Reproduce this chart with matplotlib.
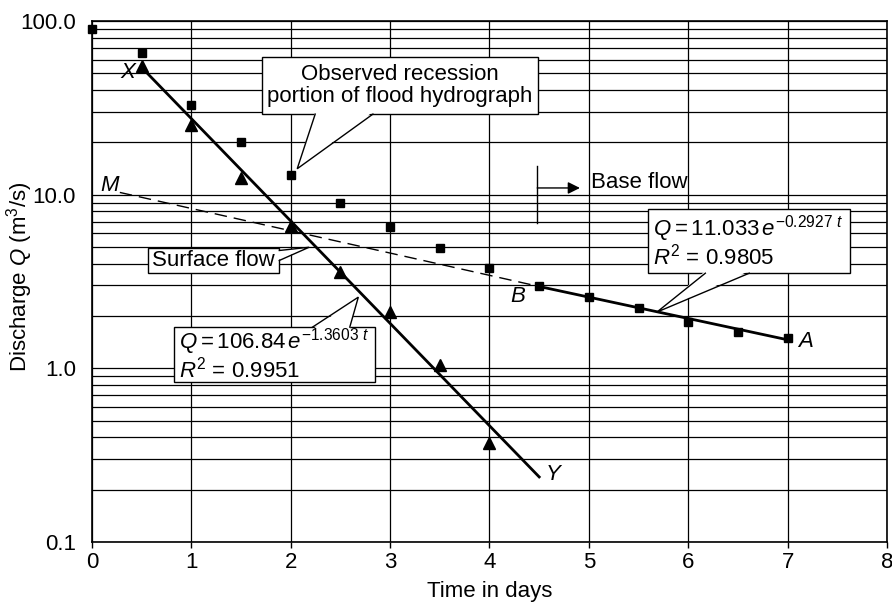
import matplotlib
matplotlib.use('Agg')
import matplotlib.pyplot as plt
from matplotlib.patches import Rectangle, Polygon
from matplotlib.ticker import FixedLocator, LogLocator, NullFormatter, NullLocator

plt.rcParams['font.family'] = ['Liberation Sans', 'DejaVu Sans']
plt.rcParams['mathtext.fontset'] = 'custom'
plt.rcParams['mathtext.rm'] = 'Liberation Sans'
plt.rcParams['mathtext.it'] = 'Liberation Sans:italic'
plt.rcParams['mathtext.bf'] = 'Liberation Sans:bold'

FS = 16

# observed recession portion of the flood hydrograph (squares)
days_obs = [0, 0.5, 1, 1.5, 2, 2.5, 3, 3.5, 4, 4.5, 5, 5.5, 6, 6.5, 7]
q_obs = [90, 65, 33, 20, 13, 8.9, 6.5, 4.95, 3.8, 2.96, 2.59, 2.24, 1.86, 1.61, 1.5]

# surface flow = observed - base flow (triangles)
days_surf = [0.5, 1, 1.5, 2, 2.5, 3, 3.5, 4]
q_surf = [55, 25.2, 12.5, 6.6, 3.6, 2.1, 1.04, 0.37]

# fitted lines (end points)
surf_fit_days = [0.5, 4.5]
surf_fit_q = [54, 0.237]
base_fit_days = [4.5, 7]
base_fit_q = [2.96, 1.46]
base_ext_days = [0.28, 4.5]
base_ext_q = [10.3, 2.96]

y_ticks = [0.1, 1, 10, 100]
y_tick_labels = ['0.1', '1.0', '10.0', '100.0']
x_ticks = [0, 1, 2, 3, 4, 5, 6, 7, 8]


def callout(ax, x0, x1, y0, y1, b0, b1, tip, side):
    ax.add_patch(Rectangle((x0, y0), x1 - x0, y1 - y0, fc='white', ec='black',
                           lw=1, zorder=5))
    if side == 'bottom':
        e0, e1 = (b0, y0), (b1, y0)
        i0, i1 = (b0, y0 * 1.03), (b1, y0 * 1.03)
    elif side == 'top':
        e0, e1 = (b0, y1), (b1, y1)
        i0, i1 = (b0, y1 / 1.03), (b1, y1 / 1.03)
    else:  # right
        e0, e1 = (x1, b0), (x1, b1)
        i0, i1 = (x1 - 0.02, b0), (x1 - 0.02, b1)
    ax.add_patch(Polygon([i0, tip, i1], closed=True, fc='white', ec='none', zorder=6))
    ax.plot([e0[0], tip[0], e1[0]], [e0[1], tip[1], e1[1]], color='black', lw=1,
            zorder=7, solid_joinstyle='miter')


def plot_recession() -> None:
    fig = plt.figure(figsize=(8.92, 6.04), dpi=100)
    ax = fig.add_axes([92 / 892, 1 - 542 / 604, (887 - 92) / 892, (542 - 21) / 604])

    ax.set_yscale('log')
    ax.set_xlim(0, 8)
    ax.set_ylim(0.1, 100)

    ax.yaxis.set_major_locator(FixedLocator(y_ticks))
    ax.set_yticklabels(y_tick_labels)
    ax.yaxis.set_minor_locator(LogLocator(base=10, subs=range(2, 10)))
    ax.yaxis.set_minor_formatter(NullFormatter())
    ax.xaxis.set_major_locator(FixedLocator(x_ticks))
    ax.xaxis.set_minor_locator(NullLocator())

    ax.grid(which='both', axis='y', color='black', lw=0.9)
    ax.grid(which='major', axis='x', color='black', lw=0.9)
    ax.set_axisbelow(True)
    for s in ax.spines.values():
        s.set_linewidth(1.2)

    ax.tick_params(axis='y', which='both', length=0, pad=11.5, labelsize=FS)
    ax.tick_params(axis='x', which='major', direction='out', length=4, width=1,
                   pad=3, labelsize=FS)

    ax.plot(days_obs, q_obs, 's', color='black', ms=5.5, clip_on=False, zorder=4)
    ax.plot(days_surf, q_surf, '^', color='black', ms=8.5, clip_on=False, zorder=4)
    ax.plot(surf_fit_days, surf_fit_q, '-', color='black', lw=2, zorder=4)
    ax.plot(base_fit_days, base_fit_q, '-', color='black', lw=2, zorder=4)
    ax.plot(base_ext_days, base_ext_q, '-', color='black', lw=1,
            dashes=(9, 5), zorder=4)

    ax.set_xlabel('Time in days', fontsize=FS, labelpad=6)
    ax.set_ylabel('Discharge $Q$ (m$^3$/s)', fontsize=FS)
    ax.yaxis.set_label_coords(-0.072, 0.51)

    # letters on the lines
    for txt, x, y in [('X', 0.36, 50.5), ('M', 0.18, 11.3), ('B', 4.28, 2.59),
                      ('A', 7.18, 1.42), ('Y', 4.64, 0.246)]:
        ax.text(x, y, txt, style='italic', fontsize=FS, ha='center', va='center')

    # callouts
    callout(ax, 1.711, 4.491, 29.1, 62.4, 2.246, 2.827, (2.065, 14.1), 'bottom')
    ax.text(3.10, 42.6, 'Observed recession\nportion of flood hydrograph',
            fontsize=FS, ha='center', va='center', zorder=8, linespacing=1.1)

    callout(ax, 0.564, 1.885, 3.56, 4.91, 4.77, 4.18, (2.185, 4.98), 'right')
    ax.text(1.225, 4.18, 'Surface flow', fontsize=FS, ha='center', va='center',
            zorder=8)

    callout(ax, 0.825, 2.847, 0.834, 1.727, 2.219, 2.594, (2.68, 2.57), 'top')
    ax.text(0.88, 1.2, '$Q = 106.84\\,e^{-1.3603\\ t}$\n$R^2$ = 0.9951',
            fontsize=FS, ha='left', va='center', zorder=8, linespacing=1.0)

    callout(ax, 5.594, 7.632, 3.53, 8.28, 6.172, 6.614, (5.684, 2.107), 'bottom')
    ax.text(5.65, 5.4, '$Q = 11.033\\,e^{-0.2927\\ t}$\n$R^2$ = 0.9805',
            fontsize=FS, ha='left', va='center', zorder=8, linespacing=1.0)

    # base flow marker
    ax.plot([4.48, 4.48], [14.7, 6.84], color='black', lw=1)
    ax.annotate('', xy=(4.91, 10.93), xytext=(4.48, 10.93),
                arrowprops=dict(arrowstyle='-|>', color='black', lw=1,
                                mutation_scale=18, shrinkA=0, shrinkB=0))
    ax.text(5.02, 11.7, 'Base flow', fontsize=FS, ha='left', va='center')

    fig.savefig('out.png', dpi=100)


if __name__ == '__main__':
    plot_recession()
